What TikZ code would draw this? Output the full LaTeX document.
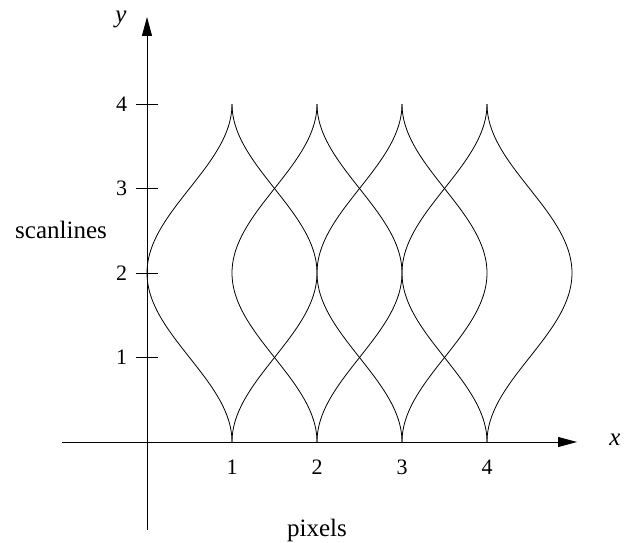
\documentclass[tikz,border=0pt]{standalone}
\usepackage{fontspec}
\setmainfont{Liberation Serif}
\usetikzlibrary{arrows.meta}
\begin{document}
\begin{tikzpicture}[x=1pt,y=1pt,
  axis/.style={line width=0.8pt,-{Triangle[length=19pt,width=10pt]}},
  curve/.style={line width=0.8pt},
  tick/.style={line width=0.8pt},
  lbl/.style={font=\fontsize{22}{26}\selectfont,inner sep=0pt},
  word/.style={font=\fontsize{25}{30}\selectfont,inner sep=0pt},
  axlbl/.style={font=\fontsize{25}{30}\selectfont\itshape,inner sep=0pt}]
\useasboundingbox (0,0) rectangle (624,543);
% axes
\coordinate (xs) at (62,101);
\coordinate (xe) at (577,101);
\coordinate (ys) at (147,13);
\coordinate (ye) at (147,526);
\draw[axis] (xs) -- (xe);
\draw[axis] (ys) -- (ye);
\node[axlbl] (xl) at (615,103) {x};
\node[axlbl] (yl) at (121,524) {y};
% curves
\begin{scope}[shift={(147,101)},x=85pt,y=84.5pt]
\foreach \i in {1,2,3,4}{
  \foreach \s in {-1,1}{
    \draw[curve] plot[domain=0:4,samples=121,smooth] ({\i+\s*(1-cos(90*\x))/2},{\x});
  }
}
\foreach \j in {1,2,3,4}{
  \coordinate (ta\j) at (-0.135,\j);
  \coordinate (tb\j) at (0.135,\j);
  \draw[tick] (ta\j) -- (tb\j);
  \node[lbl] (yt\j) at (-0.3,\j) {\j};
  \node[lbl] (xt\j) at (\j,-0.3) {\j};
}
\end{scope}
\node[word] (sc) at (61,313) {scanlines};
\node[word] (px) at (317,13) {pixels};
\end{tikzpicture}
\end{document}
